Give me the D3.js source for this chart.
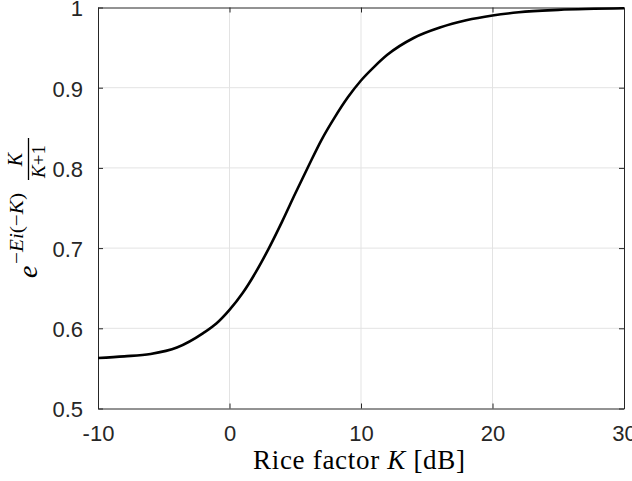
<!DOCTYPE html>
<html>
<head>
<meta charset="utf-8">
<script src="https://cdn.jsdelivr.net/npm/d3@7"></script>
<style>
  body { margin: 0; background: #fff; }
  svg { display: block; }
</style>
</head>
<body>
<div id="chart"></div>
<script>
// Rice factor curve

var riceK = [-10, -8, -6, -4, -2, -1, 0, 1, 2, 3, 4, 5, 6, 7, 8, 9, 10, 11, 12, 14, 16, 18, 20, 22, 25, 30];
var gain = [0.563, 0.565, 0.568, 0.576, 0.594, 0.606, 0.623, 0.644, 0.670, 0.700, 0.733, 0.768, 0.802,
            0.835, 0.863, 0.888, 0.909, 0.926, 0.941, 0.962, 0.975, 0.984, 0.990, 0.994, 0.997, 0.999];
var xTicks = [-10, 0, 10, 20, 30];
var xTickLabels = ["-10", "0", "10", "20", "30"];
var yTicks = [0.5, 0.6, 0.7, 0.8, 0.9, 1];
var yTickLabels = ["0.5", "0.6", "0.7", "0.8", "0.9", "1"];

var svgWidth = 632, svgHeight = 481;
var plotLeft = 98, plotRight = 624, plotTop = 7.5, plotBottom = 408.5;
var axisColor = "#262626";

var svg = d3.select("#chart")
    .append("svg")
        .attr("width", svgWidth)
        .attr("height", svgHeight);

var x = d3.scaleLinear()
    .domain([-10, 30])
    .range([plotLeft, plotRight]);

var y = d3.scaleLinear()
    .domain([0.5, 1])
    .range([plotBottom, plotTop]);

// grid
svg.append("g")
    .selectAll("line")
    .data(xTicks.slice(1, -1))
    .enter().append("line")
        .attr("x1", function(d) { return x(d); })
        .attr("x2", function(d) { return x(d); })
        .attr("y1", plotTop)
        .attr("y2", plotBottom)
        .attr("stroke", "#e3e3e3")
        .attr("stroke-width", 1);
svg.append("g")
    .selectAll("line")
    .data(yTicks.slice(1, -1))
    .enter().append("line")
        .attr("x1", plotLeft)
        .attr("x2", plotRight)
        .attr("y1", function(d) { return y(d); })
        .attr("y2", function(d) { return y(d); })
        .attr("stroke", "#e3e3e3")
        .attr("stroke-width", 1);

// axes (box with inward ticks on all sides)
var xAxisB = d3.axisBottom(x).tickValues(xTicks).tickSizeInner(-5).tickSizeOuter(0)
    .tickFormat(function(d, i) { return xTickLabels[i]; });
var xAxisT = d3.axisTop(x).tickValues(xTicks).tickSizeInner(-5).tickSizeOuter(0).tickFormat("");
var yAxisL = d3.axisLeft(y).tickValues(yTicks).tickSizeInner(-5).tickSizeOuter(0)
    .tickFormat(function(d, i) { return yTickLabels[i]; });
var yAxisR = d3.axisRight(y).tickValues(yTicks).tickSizeInner(-5).tickSizeOuter(0).tickFormat("");

var gxb = svg.append("g").attr("transform", "translate(0," + plotBottom + ")").call(xAxisB);
var gxt = svg.append("g").attr("transform", "translate(0," + plotTop + ")").call(xAxisT);
var gyl = svg.append("g").attr("transform", "translate(" + plotLeft + ",0)").call(yAxisL);
var gyr = svg.append("g").attr("transform", "translate(" + plotRight + ",0)").call(yAxisR);

[gxb, gxt, gyl, gyr].forEach(function(g) {
    g.selectAll("path").attr("stroke", axisColor).attr("stroke-width", 1);
    g.selectAll("line").attr("stroke", axisColor).attr("stroke-width", 1);
    g.selectAll("text")
        .attr("fill", axisColor)
        .style("font-family", "'Liberation Sans', Arial, sans-serif")
        .style("font-size", "22px");
});
gxb.selectAll("text").attr("y", 0).attr("dy", 0).attr("transform", "translate(0,32.5)");
gyl.selectAll("text").attr("x", -15).attr("dy", "0.38em");

// curve
var line = d3.line()
    .x(function(d, i) { return x(riceK[i]); })
    .y(function(d) { return y(d); })
    .curve(d3.curveMonotoneX);

svg.append("path")
    .datum(gain)
    .attr("d", line)
    .attr("fill", "none")
    .attr("stroke", "#000")
    .attr("stroke-width", 2.6);

// x label
var xl = svg.append("text")
    .attr("x", 359)
    .attr("y", 469)
    .attr("text-anchor", "middle")
    .attr("textLength", 212)
    .attr("lengthAdjust", "spacing")
    .style("font-family", "'Liberation Serif', 'Times New Roman', serif")
    .style("font-size", "27px")
    .attr("fill", "#000");
xl.append("tspan").text("Rice factor ");
xl.append("tspan").style("font-style", "italic").text("K");
xl.append("tspan").text(" [dB]");

// y label (rotated math)
var serif = "'Liberation Serif', 'Times New Roman', serif";
var yl = svg.append("g")
    .attr("transform", "translate(37,0) rotate(-90)")
    .style("font-family", serif)
    .attr("fill", "#000");

yl.append("text")
    .attr("x", -278).attr("y", 0)
    .style("font-size", "28px").style("font-style", "italic")
    .text("e");

var sup = yl.append("text")
    .attr("x", -264).attr("y", -14)
    .attr("textLength", 71)
    .attr("lengthAdjust", "spacingAndGlyphs")
    .style("font-size", "19px");
sup.append("tspan").text("\u2212");
sup.append("tspan").style("font-style", "italic").text("Ei");
sup.append("tspan").text("(\u2212");
sup.append("tspan").style("font-style", "italic").text("K");
sup.append("tspan").text(")");

yl.append("text")
    .attr("x", -159.5).attr("y", -15)
    .attr("text-anchor", "middle")
    .style("font-size", "20px").style("font-style", "italic")
    .text("K");

yl.append("line")
    .attr("x1", -180).attr("x2", -138)
    .attr("y1", -8.5).attr("y2", -8.5)
    .attr("stroke", "#000").attr("stroke-width", 1.3);

var den = yl.append("text")
    .attr("x", -161.5).attr("y", 8)
    .attr("text-anchor", "middle")
    .style("font-size", "19px");
den.append("tspan").style("font-style", "italic").text("K");
den.append("tspan").text("+1");
</script>
</body>
</html>
